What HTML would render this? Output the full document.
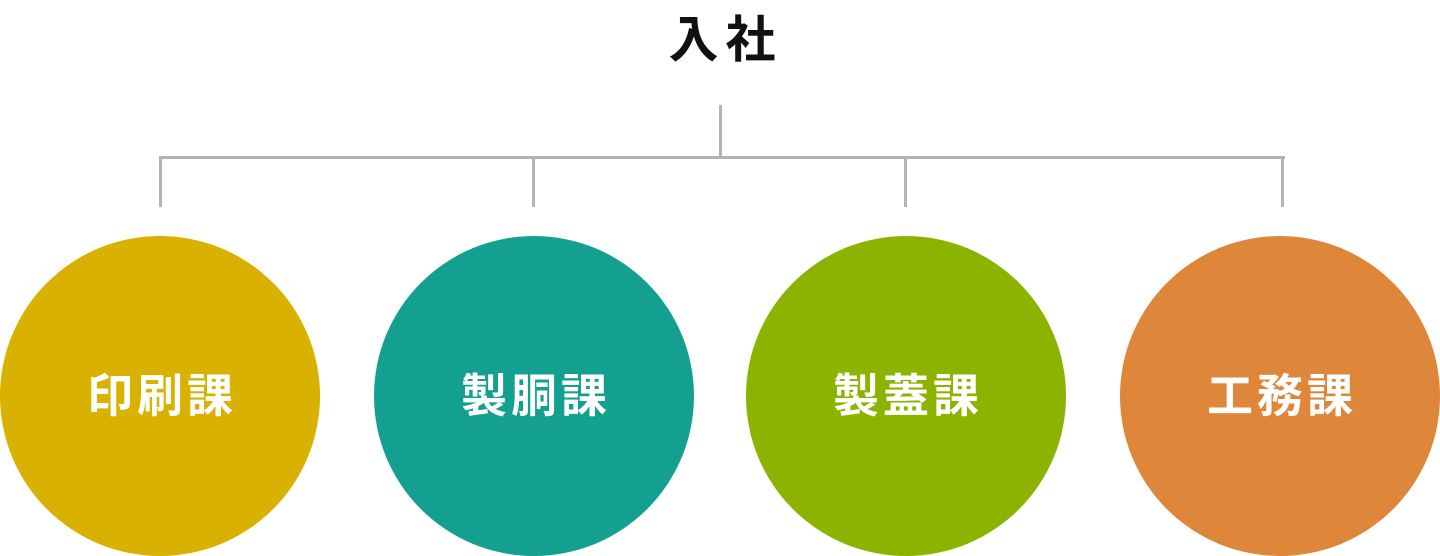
<!DOCTYPE html>
<html><head><meta charset="utf-8"><style>
html,body{margin:0;padding:0;background:#fff;width:1440px;height:556px;overflow:hidden;position:relative;font-family:"Liberation Sans","Noto Sans CJK JP",sans-serif}
.t{position:absolute;left:622px;width:200px;top:8px;text-align:center;font-size:50px;font-weight:bold;letter-spacing:7px;padding-left:7px;box-sizing:border-box;color:#111;line-height:64px}
.c{position:absolute;top:236px;width:320px;height:320px;border-radius:50%;color:#fff;font-weight:bold;font-size:46px;letter-spacing:4px;padding-left:4px;box-sizing:border-box;display:flex;align-items:center;justify-content:center;line-height:1}
.l{position:absolute;background:#b3b3b3}
</style></head><body>
<div class="t">入社</div>
<div class="l" style="left:719px;top:105px;width:3px;height:54px"></div>
<div class="l" style="left:159px;top:156px;width:1126px;height:3px"></div>
<div class="l" style="left:159px;top:156px;width:3px;height:51px"></div>
<div class="l" style="left:532px;top:156px;width:3px;height:51px"></div>
<div class="l" style="left:904px;top:156px;width:3px;height:51px"></div>
<div class="l" style="left:1281px;top:156px;width:3px;height:51px"></div>
<div class="c" style="left:0;background:#d9b100">印刷課</div>
<div class="c" style="left:374px;background:#14a090">製胴課</div>
<div class="c" style="left:746px;background:#8cb300">製蓋課</div>
<div class="c" style="left:1120px;background:#de873b">工務課</div>
</body></html>
